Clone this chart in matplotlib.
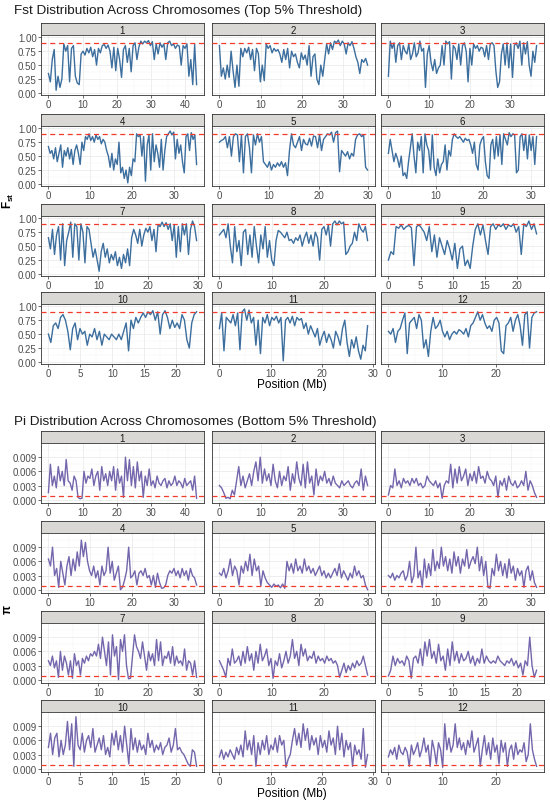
import matplotlib
matplotlib.use("Agg")
import matplotlib.pyplot as plt
import numpy as np
from matplotlib.ticker import MultipleLocator

plt.rcParams['font.family'] = ['Liberation Sans', 'DejaVu Sans']
plt.rcParams['mathtext.fontset'] = 'custom'
plt.rcParams['mathtext.rm'] = 'Liberation Sans'
plt.rcParams['mathtext.bf'] = 'Liberation Sans:bold'

# chromosome lengths (Mb)
chrom_len = [43.3, 35.9, 36.4, 35.5, 29.9, 31.2, 29.7, 28.4, 23.0, 23.2, 29.0, 27.5]
# x tick step per chromosome
tick_step = [10, 10, 10, 10, 10, 10, 10, 10, 5, 5, 10, 10]

# Fst values along each chromosome
fst_1 = [0.35, 0.2, 0.6, 0.78, 0.05, 0.3, 0.1, 0.25, 0.88, 0.75, 0.85, 0.2, 0.8, 0.85, 0.3, 0.18,
         0.15, 0.7, 0.75, 0.68, 0.8, 0.72, 0.82, 0.65, 0.78, 0.5, 0.8, 0.72, 0.85, 0.87, 0.8, 0.86,
         0.75, 0.45, 0.82, 0.4, 0.8, 0.6, 0.28, 0.78, 0.85, 0.55, 0.8, 0.38, 0.85, 0.9, 0.6, 0.82,
         0.93, 0.88, 0.93, 0.9, 0.94, 0.85, 0.92, 0.6, 0.88, 0.7, 0.9, 0.82, 0.88, 0.6, 0.9, 0.93,
         0.85, 0.88, 0.8, 0.86, 0.84, 0.5, 0.85, 0.8, 0.88, 0.3, 0.6, 0.15, 0.87, 0.15]
fst_2 = [0.85, 0.3, 0.45, 0.25, 0.5, 0.28, 0.75, 0.4, 0.1, 0.5, 0.12, 0.8, 0.65, 0.8, 0.72, 0.82,
         0.6, 0.78, 0.4, 0.8, 0.7, 0.2, 0.5, 0.22, 0.88, 0.8, 0.85, 0.72, 0.8, 0.75, 0.78, 0.7,
         0.55, 0.78, 0.6, 0.8, 0.45, 0.75, 0.65, 0.7, 0.55, 0.45, 0.72, 0.6, 0.68, 0.5, 0.85, 0.3,
         0.65, 0.7, 0.25, 0.15, 0.5, 0.3, 0.6, 0.88, 0.7, 0.9, 0.78, 0.93, 0.9, 0.95, 0.85, 0.93,
         0.88, 0.7, 0.9, 0.85, 0.92, 0.8, 0.65, 0.55, 0.35, 0.6, 0.55, 0.62, 0.5]
fst_3 = [0.3, 0.93, 0.8, 0.9, 0.55, 0.85, 0.9, 0.6, 0.85, 0.75, 0.7, 0.88, 0.6, 0.7, 0.9, 0.65,
         0.72, 0.93, 0.75, 0.8, 0.1, 0.7, 0.85, 0.55, 0.4, 0.6, 0.35, 0.45, 0.5, 0.85, 0.5, 0.93,
         0.88, 0.92, 0.25, 0.85, 0.8, 0.6, 0.88, 0.5, 0.85, 0.9, 0.75, 0.2, 0.8, 0.5, 0.88, 0.8,
         0.85, 0.75, 0.82, 0.8, 0.65, 0.85, 0.6, 0.88, 0.9, 0.85, 0.4, 0.1, 0.2, 0.7, 0.88, 0.5,
         0.9, 0.45, 0.88, 0.28, 0.85, 0.9, 0.8, 0.93, 0.5, 0.9, 0.7, 0.92, 0.5, 0.3, 0.75, 0.55, 0.85]
fst_4 = [0.67, 0.55, 0.6, 0.45, 0.65, 0.4, 0.55, 0.7, 0.3, 0.6, 0.5, 0.65, 0.45, 0.62, 0.35, 0.6,
         0.7, 0.55, 0.35, 0.75, 0.6, 0.85, 0.8, 0.9, 0.78, 0.85, 0.75, 0.88, 0.8, 0.85, 0.72, 0.8,
         0.75, 0.6, 0.5, 0.3, 0.55, 0.25, 0.45, 0.35, 0.75, 0.2, 0.3, 0.1, 0.25, 0.02, 0.3, 0.15,
         0.45, 0.4, 0.9, 0.85, 0.88, 0.5, 0.85, 0.05, 0.7, 0.88, 0.25, 0.9, 0.4, 0.7, 0.55, 0.3,
         0.8, 0.25, 0.6, 0.85, 0.9, 0.95, 0.88, 0.93, 0.45, 0.8, 0.55, 0.7, 0.4, 0.2, 0.85, 0.9,
         0.6, 0.92, 0.8, 0.88, 0.35]
fst_5 = [0.75, 0.78, 0.8, 0.85, 0.65, 0.85, 0.5, 0.85, 0.9, 0.88, 0.4, 0.88, 0.2, 0.85, 0.9, 0.65,
         0.2, 0.88, 0.7, 0.9, 0.75, 0.85, 0.4, 0.35, 0.3, 0.4, 0.25, 0.35, 0.3, 0.38, 0.32, 0.4,
         0.3, 0.38, 0.15, 0.6, 0.9, 0.7, 0.65, 0.75, 0.85, 0.6, 0.8, 0.72, 0.7, 0.82, 0.68, 0.86,
         0.85, 0.65, 0.88, 0.6, 0.8, 0.85, 0.9, 0.88, 0.93, 0.75, 0.92, 0.95, 0.22, 0.6, 0.55, 0.5,
         0.58, 0.45, 0.55, 0.5, 0.8, 0.88, 0.9, 0.85, 0.88, 0.3, 0.25]
fst_6 = [0.55, 0.8, 0.6, 0.4, 0.55, 0.45, 0.3, 0.5, 0.15, 0.2, 0.1, 0.4, 0.65, 0.9, 0.5, 0.2,
         0.75, 0.6, 0.85, 0.2, 0.9, 0.7, 0.6, 0.25, 0.88, 0.3, 0.15, 0.45, 0.2, 0.35, 0.4, 0.7,
         0.25, 0.6, 0.5, 0.8, 0.9, 0.85, 0.82, 0.85, 0.8, 0.75, 0.82, 0.78, 0.8, 0.7, 0.55, 0.75,
         0.35, 0.25, 0.7, 0.8, 0.85, 0.4, 0.15, 0.1, 0.7, 0.8, 0.45, 0.85, 0.5, 0.88, 0.35, 0.9,
         0.8, 0.7, 0.92, 0.85, 0.9, 0.88, 0.2, 0.25, 0.85, 0.9, 0.6, 0.88, 0.45, 0.88, 0.6, 0.85,
         0.35, 0.85]
fst_7 = [0.65, 0.45, 0.8, 0.35, 0.7, 0.85, 0.25, 0.9, 0.15, 0.6, 0.75, 0.93, 0.3, 0.9,
         0.85, 0.25, 0.9, 0.75, 0.2, 0.85, 0.8, 0.55, 0.3, 0.45, 0.25, 0.05, 0.4, 0.55, 0.3,
         0.45, 0.2, 0.35, 0.25, 0.4, 0.15, 0.3, 0.1, 0.35, 0.2, 0.45, 0.15, 0.65, 0.8, 0.7, 0.55,
         0.8, 0.5, 0.7, 0.82, 0.75, 0.85, 0.6, 0.8, 0.4, 0.88, 0.85, 0.93, 0.85, 0.92, 0.8, 0.9,
         0.6, 0.88, 0.3, 0.85, 0.4, 0.9, 0.7, 0.9, 0.35, 0.8, 0.95, 0.85, 0.6]
fst_8 = [0.7, 0.75, 0.8, 0.65, 0.9, 0.5, 0.2, 0.85, 0.4, 0.6, 0.15, 0.75, 0.8, 0.35, 0.7, 0.3,
         0.85, 0.5, 0.2, 0.7, 0.45, 0.85, 0.3, 0.6, 0.25, 0.15, 0.6, 0.78, 0.75, 0.7, 0.65, 0.75,
         0.6, 0.62, 0.55, 0.65, 0.6, 0.7, 0.5, 0.65, 0.75, 0.55, 0.7, 0.5, 0.75, 0.65, 0.25, 0.8,
         0.85, 0.7, 0.88, 0.5, 0.9, 0.95, 0.88, 0.95, 0.9, 0.93, 0.35, 0.4, 0.5, 0.55, 0.75, 0.6,
         0.9, 0.8, 0.75, 0.85, 0.6]
fst_9 = [0.25, 0.4, 0.35, 0.85, 0.82, 0.88, 0.8, 0.85, 0.87, 0.83, 0.15, 0.85, 0.88, 0.82, 0.75,
         0.6, 0.85, 0.4, 0.7, 0.3, 0.65, 0.5, 0.35, 0.6, 0.45, 0.25, 0.55, 0.1, 0.45, 0.5, 0.15,
         0.25, 0.1, 0.5, 0.8, 0.9, 0.7, 0.88, 0.6, 0.35, 0.85, 0.9, 0.8, 0.88, 0.85, 0.9, 0.8,
         0.88, 0.85, 0.9, 0.75, 0.85, 0.35, 0.9, 0.85, 0.95, 0.8, 0.9, 0.72]
fst_10 = [0.5, 0.35, 0.65, 0.7, 0.6, 0.8, 0.85, 0.75, 0.55, 0.22, 0.6, 0.7, 0.4, 0.6, 0.5, 0.55,
          0.3, 0.5, 0.45, 0.6, 0.4, 0.55, 0.3, 0.5, 0.45, 0.4, 0.5, 0.45, 0.4, 0.5, 0.4, 0.55,
          0.7, 0.2, 0.75, 0.6, 0.8, 0.7, 0.8, 0.88, 0.8, 0.9, 0.85, 0.92, 0.75, 0.9, 0.5, 0.85,
          0.92, 0.8, 0.6, 0.75, 0.62, 0.7, 0.6, 0.85, 0.75, 0.4, 0.25, 0.7, 0.85, 0.9]
fst_11 = [0.6, 0.88, 0.2, 0.8, 0.75, 0.7, 0.85, 0.65, 0.88, 0.22, 0.9, 0.95, 0.75, 0.93, 0.7,
          0.8, 0.3, 0.75, 0.15, 0.8, 0.7, 0.85, 0.65, 0.8, 0.75, 0.82, 0.7, 0.8, 0.02, 0.75, 0.8,
          0.7, 0.82, 0.65, 0.8, 0.75, 0.78, 0.6, 0.7, 0.5, 0.65, 0.55, 0.45, 0.6, 0.3, 0.45, 0.55,
          0.35, 0.5, 0.4, 0.25, 0.55, 0.45, 0.3, 0.6, 0.75, 0.35, 0.1, 0.4, 0.25, 0.45, 0.2, 0.05,
          0.3, 0.2, 0.65]
fst_12 = [0.55, 0.5, 0.6, 0.35, 0.55, 0.6, 0.75, 0.88, 0.15, 0.7, 0.75, 0.8, 0.6, 0.85, 0.75,
          0.25, 0.4, 0.1, 0.55, 0.8, 0.6, 0.65, 0.75, 0.55, 0.45, 0.55, 0.4, 0.5, 0.55, 0.5, 0.58,
          0.55, 0.5, 0.6, 0.45, 0.65, 0.7, 0.8, 0.9, 0.75, 0.85, 0.7, 0.6, 0.65, 0.55, 0.75, 0.8,
          0.7, 0.2, 0.15, 0.65, 0.7, 0.8, 0.55, 0.75, 0.85, 0.65, 0.3, 0.85, 0.9, 0.25, 0.8, 0.88,
          0.9]

# nucleotide diversity (pi x 1000) along each chromosome
pi_1 = [1.5, 7.5, 3, 5, 2.5, 7, 4, 6, 3, 8.5, 4, 3.5, 2, 5, 4, 0.5, 0.2, 0.3, 6, 3.5, 5, 4.5,
        6.5, 3, 5, 6, 2, 7, 4, 5.5, 3, 6, 4, 7, 2, 6.5, 3.5, 5, 0.5, 9, 4, 8.5, 3, 7, 2.5, 8, 4,
        6, 0.5, 5, 3, 6.5, 3, 4, 2.5, 5, 3.5, 3, 4, 4.5, 2.5, 4, 3, 3.5, 5, 3, 4, 3.5, 2.5, 4.5,
        3, 3.5, 4, 2, 5, 0.3]
pi_2 = [3, 2.5, 1.5, 0.3, 0.5, 0.2, 2, 1, 4, 7, 3, 5, 2.5, 4, 5.5, 3, 6, 8, 4, 9, 3.5, 6.5, 4,
        5.5, 3, 7.5, 4, 2.5, 6, 3, 5, 4, 7, 2, 5.5, 3.5, 8, 4.5, 3, 7.5, 2.5, 8, 3.5, 5, 1, 6.5,
        3, 5, 4, 6, 3.5, 4.5, 3, 5, 3.5, 3, 2.5, 4, 3, 3.5, 4, 3, 2.5, 3.5, 4, 3, 6.5, 2, 5, 3]
pi_3 = [1, 3, 2.5, 6.5, 3, 4, 2.5, 4.5, 3.5, 4, 3, 4.5, 3.5, 4.5, 3, 3.5, 2.5, 3, 5, 4, 3.5, 3,
        4, 2.5, 3.5, 0.3, 3, 4, 3.5, 7.5, 2.5, 6.5, 3.5, 7, 4, 5, 6.5, 3, 5.5, 4, 6, 3.5, 7, 4.5,
        5, 3.5, 6, 4.5, 4, 3, 5, 0.5, 4, 3, 4.5, 2, 5, 3.5, 3, 4, 2.5, 3, 4, 3, 6, 2, 4, 3, 1.5,
        0.5]
pi_4 = [6.5, 5, 9, 3, 4.5, 0.5, 6, 3.5, 1, 5, 7, 3, 6.5, 4, 8, 5, 10.5, 7, 10, 6, 4, 3, 5, 2.5,
        4, 1, 5, 3, 4, 9, 3.5, 6, 2, 3.5, 5, 0, 0.5, 2, 4, 9, 2.5, 3, 4, 1, 3.5, 4, 3, 4.5, 2.5,
        3, 1, 3, 0.5, 3.5, 1.5, 0.3, 0.4, 1, 3, 4, 3.5, 4.5, 3, 4, 2.5, 4.5, 3, 4, 2, 4.5, 3,
        2.5, 1]
pi_5 = [3.5, 3, 4.5, 2.5, 4, 6.5, 3, 5, 4, 1, 5, 3.5, 6, 4, 7.5, 3, 6.5, 4, 5, 0.8, 4, 2.5,
        1.5, 1, 0.5, 1.2, 0.7, 1, 0.4, 1.2, 0.3, 6, 4, 5.5, 3.5, 6.5, 4, 5, 3.5, 6.5, 4, 5, 3.5,
        4.5, 3, 4, 5, 3, 4, 2.5, 3.5, 2.5, 3.5, 4.5, 3, 5.5, 2.5, 4, 3, 2, 3.5, 2.5, 5, 3, 4,
        2.5, 3, 1, 0]
pi_6 = [3, 2.5, 3.5, 2, 3, 2.5, 3.5, 4, 2, 3, 6, 1.5, 3, 9, 2.5, 4, 0.5, 6.5, 2.5, 5.5, 3, 8.5,
        4, 6, 4.5, 9, 5, 7, 4, 6.5, 3.5, 8, 5, 7, 3.5, 6.5, 5, 8.5, 4.5, 6, 7, 5.5, 9, 4, 7, 3,
        6, 0.5, 0.3, 4.5, 3, 7.5, 4, 6, 3, 5.5, 2.5, 6.5, 3.5, 5, 2, 4.5, 3, 4, 0.5, 4, 5, 2, 4,
        1.5, 0.5]
pi_7 = [4, 3, 5, 2.5, 4, 0.5, 6, 2, 5, 3.5, 1, 4, 0.3, 5.5, 3, 4, 1, 4.5, 3.5, 5, 4, 5.5, 5, 6,
        5, 7.5, 4.5, 9, 6, 3, 8, 1, 9.5, 5, 7, 0, 8.5, 6, 9.5, 3, 0.2, 0.3, 5, 9.5, 7, 6, 4.5, 8,
        5, 2, 6, 4, 5.5, 3, 8.5, 4, 8, 3, 5, 4.5, 6, 3.5, 7, 3, 5, 3.5, 4, 3, 6.5, 2, 4, 3.5, 1,
        4, 0.5]
pi_8 = [4, 3, 2, 0.5, 4.5, 3, 6.5, 3.5, 4, 5, 3, 6, 3.5, 7, 4, 5.5, 2, 6, 3.5, 7.5, 4, 5, 6.5,
        3, 4.5, 0.3, 4, 3, 5.5, 2.5, 4, 6, 3.5, 5, 8.5, 4.5, 6, 3, 7.5, 5, 6.5, 4, 5, 4.5, 6, 3.5,
        5, 4, 4.5, 3.5, 5, 4, 4.5, 3.5, 4, 3, 0.5, 2, 3.5, 1.5, 3, 2, 3.5, 2.5, 4, 3, 3.5, 5, 3,
        1]
pi_9 = [0.8, 2, 5, 3, 4.5, 3.5, 4, 3, 5, 4, 0.3, 4.5, 5, 3.5, 6.5, 3, 8, 5, 8.5, 4.5, 6, 3.5,
        7.5, 4, 5, 2, 6.5, 3, 8, 4, 6, 3.5, 5.5, 4, 4.5, 6, 3.5, 5, 3, 4.5, 3.5, 6.5, 3.5, 5, 4,
        3.5, 4, 3.5, 5, 4, 3.5, 3, 4, 3.5, 4.5, 3, 4, 2.5, 3.5, 1, 4, 3, 9, 3, 0.5, 2]
pi_10 = [4.5, 7.5, 3, 6.5, 7.5, 2.5, 6, 3, 5, 10, 4, 9.5, 0.5, 11, 5, 4, 7.5, 3.5, 6, 7, 4.5,
         8.5, 3.5, 5, 6.5, 4, 7, 3, 4.5, 2.5, 7.5, 5, 8, 4, 7, 3.5, 9, 5, 1, 8.5, 4, 6.5, 3.5, 6,
         4, 5, 3, 7.5, 4.5, 6, 3.5, 5, 4, 5.5, 3, 4.5, 5, 6.5, 3.5, 5, 8.5, 4, 4.5, 3.5, 3, 2, 1,
         0.5, 4, 3.5, 0.5]
pi_11 = [2.5, 4, 2, 3.5, 2.5, 4, 3, 2, 4.5, 3, 5, 2.5, 8, 4, 6, 3, 7, 0.5, 5.5, 3, 6, 4, 7, 3,
         5, 4, 6.5, 3.5, 7, 5, 6, 0.3, 2, 3, 6, 8.5, 5, 7.5, 4.5, 9.5, 6, 8.5, 4, 7, 5, 6.5, 3, 7,
         4.5, 6, 3.5, 8, 5, 6.5, 3, 9, 4, 7.5, 2.5, 6, 4, 5.5, 0.5, 5, 3, 4, 2, 8.5, 0.3, 3]
pi_12 = [2.5, 4, 3, 4.5, 2, 5, 3.5, 3, 4.5, 3.5, 0.5, 5, 3, 4, 5.5, 2.5, 4, 6.5, 3.5, 5, 0.5, 6,
         4, 1, 5.5, 4, 0.3, 9.5, 4, 6.5, 3.5, 5, 9.5, 4.5, 6.5, 4, 5.5, 3, 6, 4.5, 8, 3.5, 5, 6.5,
         0.5, 4, 7, 3, 5.5, 2, 6.5, 3.5, 5, 1, 6, 3.5, 5.5, 0.5, 4, 5, 2, 5.5, 3, 4, 3.5, 5.5,
         1.5, 3, 9.5, 4, 2, 0.5]

fst_all = [fst_1, fst_2, fst_3, fst_4, fst_5, fst_6, fst_7, fst_8, fst_9, fst_10, fst_11, fst_12]
pi_all = [pi_1, pi_2, pi_3, pi_4, pi_5, pi_6, pi_7, pi_8, pi_9, pi_10, pi_11, pi_12]

fst_thr = 0.9
pi_thr = 0.0008

W, H = 550, 803
fig = plt.figure(figsize=(W / 100, H / 100), dpi=100)


def px_axes(left, top, width, height):
    return fig.add_axes([left / W, 1 - (top + height) / H, width / W, height / H])


col_left = [41, 212, 381]
panel_w = 163
panel_h = 60
strip_h = 12


def draw_block(tops, values, scale, color, thr, ylim, yticks, ylabels, yminor):
    for i in range(12):
        r, c = divmod(i, 3)
        left, top = col_left[c], tops[r]
        # strip
        sax = px_axes(left, top - strip_h, panel_w, strip_h)
        sax.set_facecolor('#DAD8D5')
        sax.set_xticks([])
        sax.set_yticks([])
        for s in sax.spines.values():
            s.set_color('#333333')
            s.set_linewidth(0.6)
        sax.text(0.5, 0.45, str(i + 1), ha='center', va='center', fontsize=7, color='#1A1A1A',
                 transform=sax.transAxes)

        ax = px_axes(left, top, panel_w, panel_h)
        y = np.array(values[i]) * scale
        x = np.linspace(0, chrom_len[i], len(y))
        ax.plot(x, y, color=color, lw=1.0, zorder=3)
        ax.axhline(thr, color='#F23B2B', lw=0.9, ls=(0, (4, 3)), zorder=4)
        pad = chrom_len[i] * 0.05
        ax.set_xlim(-pad, chrom_len[i] + pad)
        ax.set_ylim(*ylim)
        ax.xaxis.set_major_locator(MultipleLocator(tick_step[i]))
        ax.xaxis.set_minor_locator(MultipleLocator(tick_step[i] / 2))
        ax.set_yticks(yticks)
        ax.yaxis.set_minor_locator(MultipleLocator(yminor))
        ax.grid(which='major', color='#EBEBEB', lw=0.6, zorder=0)
        ax.grid(which='minor', color='#F3F3F3', lw=0.35, zorder=0)
        ax.set_axisbelow(True)
        ax.tick_params(which='major', length=2, width=0.5, color='#333333',
                       labelsize=7, labelcolor='#4D4D4D', pad=1)
        ax.tick_params(which='minor', length=0)
        if c == 0:
            ax.set_yticklabels(ylabels)
        else:
            ax.tick_params(axis='y', which='major', length=0, labelleft=False)
        for s in ax.spines.values():
            s.set_color('#333333')
            s.set_linewidth(0.6)


fst_tops = [36, 127, 217, 305]
pi_tops = [444, 534, 624, 713]

draw_block(fst_tops, fst_all, 1.0, '#3C6E9E', fst_thr, (-0.036, 1.04),
           [0, 0.25, 0.5, 0.75, 1.0], ['0.00', '0.25', '0.50', '0.75', '1.00'], 0.125)
draw_block(pi_tops, pi_all, 1e-3, '#7466AC', pi_thr, (-0.0007, 0.012),
           [0, 0.003, 0.006, 0.009], ['0.000', '0.003', '0.006', '0.009'], 0.0015)

fig.text(14 / W, 1 - 11 / H, 'Fst Distribution Across Chromosomes (Top 5% Threshold)',
         fontsize=9.7, va='center', ha='left', color='#1A1A1A')
fig.text(14 / W, 1 - 422 / H, 'Pi Distribution Across Chromosomes (Bottom 5% Threshold)',
         fontsize=9.7, va='center', ha='left', color='#1A1A1A')

fig.text(8 / W, 1 - 201 / H, r'$\mathbf{F_{st}}$', rotation=90, fontsize=8.5,
         va='center', ha='center')
fig.text(8 / W, 1 - 609 / H, 'π', rotation=90, fontsize=8.5, fontweight='bold',
         va='center', ha='center')

fig.text(292 / W, 1 - 385 / H, 'Position (Mb)', fontsize=8.5, ha='center', va='center')
fig.text(292 / W, 1 - 794 / H, 'Position (Mb)', fontsize=8.5, ha='center', va='center')

fig.savefig('out.png', dpi=100, facecolor='white')
